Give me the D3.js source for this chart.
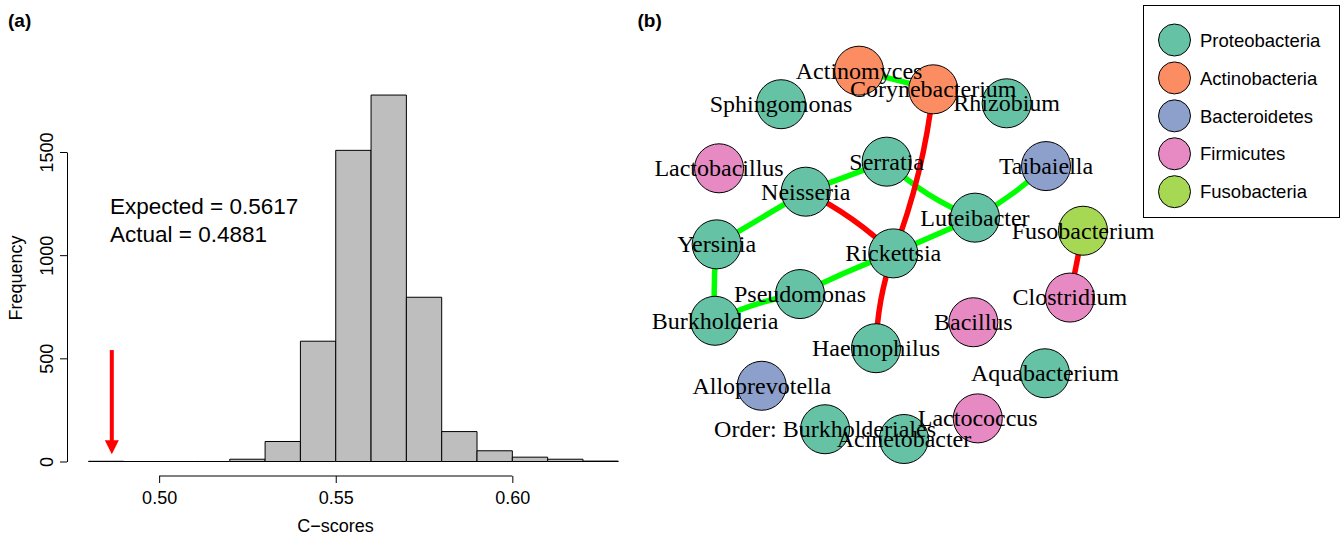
<!DOCTYPE html>
<html>
<head>
<meta charset="utf-8">
<script src="https://cdn.jsdelivr.net/npm/d3@7"></script>
<style>
  body { margin: 0; background: #fff; }
  svg { display: block; }
</style>
</head>
<body>
<div id="chart"></div>
<script>
// ---- panel (a): null distribution of C-scores ----
const breaks = [0.48, 0.49, 0.50, 0.51, 0.52, 0.53, 0.54, 0.55, 0.56, 0.57, 0.58, 0.59, 0.60, 0.61, 0.62, 0.63];
const counts = [1, 0, 0, 0, 11, 97, 583, 1508, 1776, 796, 145, 52, 21, 11, 2];
const xTicks = [0.50, 0.55, 0.60];
const yTicks = [0, 500, 1000, 1500];
const expected = 0.5617;
const actual = 0.4881;
const arrowAt = 0.4866;          // where the red arrow sits on the x scale
const arrowTop = 540, arrowTip = 35;

// ---- panel (b): co-occurrence network ----
const nodeNames = ["Actinomyces", "Corynebacterium", "Sphingomonas", "Rhizobium", "Lactobacillus",
  "Serratia", "Neisseria", "Taibaiella", "Luteibacter", "Fusobacterium", "Yersinia", "Rickettsia",
  "Pseudomonas", "Burkholderia", "Haemophilus", "Bacillus", "Clostridium", "Aquabacterium",
  "Alloprevotella", "Lactococcus", "Order: Burkholderiales", "Acinetobacter"];
const nodePhylum = ["Actinobacteria", "Actinobacteria", "Proteobacteria", "Proteobacteria", "Firmicutes",
  "Proteobacteria", "Proteobacteria", "Bacteroidetes", "Proteobacteria", "Fusobacteria", "Proteobacteria", "Proteobacteria",
  "Proteobacteria", "Proteobacteria", "Proteobacteria", "Firmicutes", "Firmicutes", "Proteobacteria",
  "Bacteroidetes", "Firmicutes", "Proteobacteria", "Proteobacteria"];
// layout coordinates (igraph style, rescaled to [-1, 1])
const nodeLx = [-0.217, 0.186, -0.641, 0.585, -0.978, -0.067, -0.507, 0.799, 0.413, 1.000, -0.991, -0.031,
  -0.538, -1.000, -0.125, 0.404, 0.929, 0.793, -0.746, 0.428, -0.402, 0.027];
const nodeLy = [1.000, 0.899, 0.818, 0.823, 0.470, 0.506, 0.343, 0.482, 0.202, 0.131, 0.057, 0.008,
  -0.213, -0.358, -0.507, -0.366, -0.232, -0.643, -0.711, -0.888, -0.947, -1.000];

const edgeFrom = ["Actinomyces", "Serratia", "Neisseria", "Serratia", "Luteibacter", "Luteibacter",
  "Rickettsia", "Pseudomonas", "Yersinia", "Corynebacterium", "Neisseria", "Rickettsia", "Fusobacterium"];
const edgeTo = ["Corynebacterium", "Neisseria", "Yersinia", "Luteibacter", "Taibaiella", "Rickettsia",
  "Pseudomonas", "Burkholderia", "Burkholderia", "Rickettsia", "Rickettsia", "Haemophilus", "Clostridium"];
const edgeSign = ["+", "+", "+", "+", "+", "+", "+", "+", "+", "-", "-", "-", "-"];
const edgeCurve = [0, 0, 0, 0.1, 0.06, 0, 0.03, 0.08, 0.04, -0.065, -0.08, 0.08, 0];

const phyla = ["Proteobacteria", "Actinobacteria", "Bacteroidetes", "Firmicutes", "Fusobacteria"];
const phylumColors = ["#66C2A5", "#FC8D62", "#8DA0CB", "#E78AC3", "#A6D854"];

const width = 1342, height = 536;
const sans = "'Liberation Sans', Arial, Helvetica, sans-serif";
const serif = "'Liberation Serif', 'Times New Roman', Times, serif";

const svg = d3.select("#chart").append("svg")
  .attr("width", width).attr("height", height);

// ===== Panel (a) =====
const x = d3.scaleLinear().domain([0.48, 0.63]).range([88.5, 618.3]);
const y = d3.scaleLinear().domain([0, 1500]).range([461.5, 152]);

const bins = counts.map((c, i) => ({ x0: breaks[i], x1: breaks[i + 1], n: c }));

// drawn as closed paths so empty bins still show their border, like R's hist()
svg.append("g").selectAll("path")
  .data(bins)
  .join("path")
  .attr("d", d => `M${x(d.x0)},${y(0)} L${x(d.x0)},${y(d.n)} L${x(d.x1)},${y(d.n)} L${x(d.x1)},${y(0)} Z`)
  .attr("fill", "#BEBEBE")
  .attr("stroke", "#000")
  .attr("stroke-width", 1);

// y axis
const yAxis = svg.append("g")
  .attr("transform", "translate(67,0)")
  .call(d3.axisLeft(y).tickValues(yTicks).tickSize(7).tickSizeOuter(0).tickFormat(d3.format("d")));
yAxis.selectAll("text")
  .attr("transform", "rotate(-90)")
  .attr("x", 0).attr("y", -14).attr("dy", 0)
  .attr("text-anchor", "middle");

// x axis (line only spans the ticks, as in R)
const xAxis = svg.append("g")
  .attr("transform", "translate(0,476)")
  .call(d3.axisBottom(x).tickValues(xTicks).tickSize(7).tickFormat(d3.format(".2f")));
xAxis.select(".domain").remove();
xAxis.append("line")
  .attr("x1", x(xTicks[0])).attr("x2", x(xTicks[xTicks.length - 1]))
  .attr("stroke", "#000");
xAxis.selectAll("text").attr("y", 28).attr("dy", 0);

[yAxis, xAxis].forEach(g => {
  g.attr("font-family", sans).attr("font-size", 18);
  g.selectAll("text").attr("fill", "#000");
  g.selectAll("line, path").attr("stroke", "#000");
});

svg.append("text")
  .attr("transform", "translate(22,278) rotate(-90)")
  .attr("text-anchor", "middle")
  .attr("font-family", sans).attr("font-size", 18)
  .text("Frequency");

svg.append("text")
  .attr("x", 335.5).attr("y", 532)
  .attr("text-anchor", "middle")
  .attr("font-family", sans).attr("font-size", 18)
  .text("C\u2212scores");

svg.append("text")
  .attr("x", 110).attr("y", 214)
  .attr("font-family", sans).attr("font-size", 22.5)
  .text(`Expected = ${expected}`);
svg.append("text")
  .attr("x", 110).attr("y", 242)
  .attr("font-family", sans).attr("font-size", 22.5)
  .text(`Actual = ${actual}`);

// red arrow pointing at the observed value
const ax = x(arrowAt);
const headLen = 14, headHalf = 7;
svg.append("line")
  .attr("x1", ax).attr("x2", ax)
  .attr("y1", y(arrowTop)).attr("y2", y(arrowTip) - headLen + 1)
  .attr("stroke", "#FF0000").attr("stroke-width", 4);
svg.append("path")
  .attr("d", `M${ax - headHalf},${y(arrowTip) - headLen} L${ax + headHalf},${y(arrowTip) - headLen} L${ax},${y(arrowTip)} Z`)
  .attr("fill", "#FF0000");

svg.append("text")
  .attr("x", 8).attr("y", 26.5)
  .attr("font-family", sans).attr("font-size", 19).attr("font-weight", "bold")
  .text("(a)");

// ===== Panel (b) =====
svg.append("text")
  .attr("x", 637.5).attr("y", 26.5)
  .attr("font-family", sans).attr("font-size", 19).attr("font-weight", "bold")
  .text("(b)");

const nx = d3.scaleLinear().domain([-1, 1]).range([715, 1083]);
const ny = d3.scaleLinear().domain([-1, 1]).range([439, 70.7]);
const color = d3.scaleOrdinal().domain(phyla).range(phylumColors);

const nodes = nodeNames.map((name, i) => ({
  name, phylum: nodePhylum[i], px: nx(nodeLx[i]), py: ny(nodeLy[i])
}));
const byName = new Map(nodes.map(d => [d.name, d]));
const edges = edgeFrom.map((f, i) => ({
  s: byName.get(f), t: byName.get(edgeTo[i]), sign: edgeSign[i], k: edgeCurve[i]
}));

const edgePath = e => {
  const dx = e.t.px - e.s.px, dy = e.t.py - e.s.py;
  const L = Math.hypot(dx, dy);
  const mx = (e.s.px + e.t.px) / 2, my = (e.s.py + e.t.py) / 2;
  const cx = mx + e.k * L * (-dy / L), cy = my + e.k * L * (dx / L);
  return `M${e.s.px},${e.s.py} Q${cx},${cy} ${e.t.px},${e.t.py}`;
};

svg.append("g").selectAll("path")
  .data(edges)
  .join("path")
  .attr("d", edgePath)
  .attr("fill", "none")
  .attr("stroke", d => d.sign === "+" ? "#00FF00" : "#FF0000")
  .attr("stroke-width", 5.5);

svg.append("g").selectAll("circle")
  .data(nodes)
  .join("circle")
  .attr("cx", d => d.px).attr("cy", d => d.py)
  .attr("r", 24.5)
  .attr("fill", d => color(d.phylum))
  .attr("stroke", "#000").attr("stroke-width", 1);

svg.append("g").selectAll("text")
  .data(nodes)
  .join("text")
  .attr("x", d => d.px).attr("y", d => d.py)
  .attr("dy", "0.33em")
  .attr("text-anchor", "middle")
  .attr("font-family", serif).attr("font-size", 24)
  .attr("fill", "#000")
  .text(d => d.name);

// legend
const legend = svg.append("g");
legend.append("rect")
  .attr("x", 1143.5).attr("y", 5.5).attr("width", 196).attr("height", 212)
  .attr("fill", "#fff").attr("stroke", "#000").attr("stroke-width", 1);
const ly = d3.scalePoint().domain(phyla).range([40, 191.7]);
const items = legend.selectAll("g.item")
  .data(phyla)
  .join("g")
  .attr("class", "item")
  .attr("transform", d => `translate(0,${ly(d)})`);
items.append("circle")
  .attr("cx", 1174.5).attr("cy", 0).attr("r", 16)
  .attr("fill", d => color(d))
  .attr("stroke", "#000").attr("stroke-width", 1);
items.append("text")
  .attr("x", 1200).attr("y", 0).attr("dy", "0.36em")
  .attr("font-family", sans).attr("font-size", 18.5)
  .text(d => d);
</script>
</body>
</html>
